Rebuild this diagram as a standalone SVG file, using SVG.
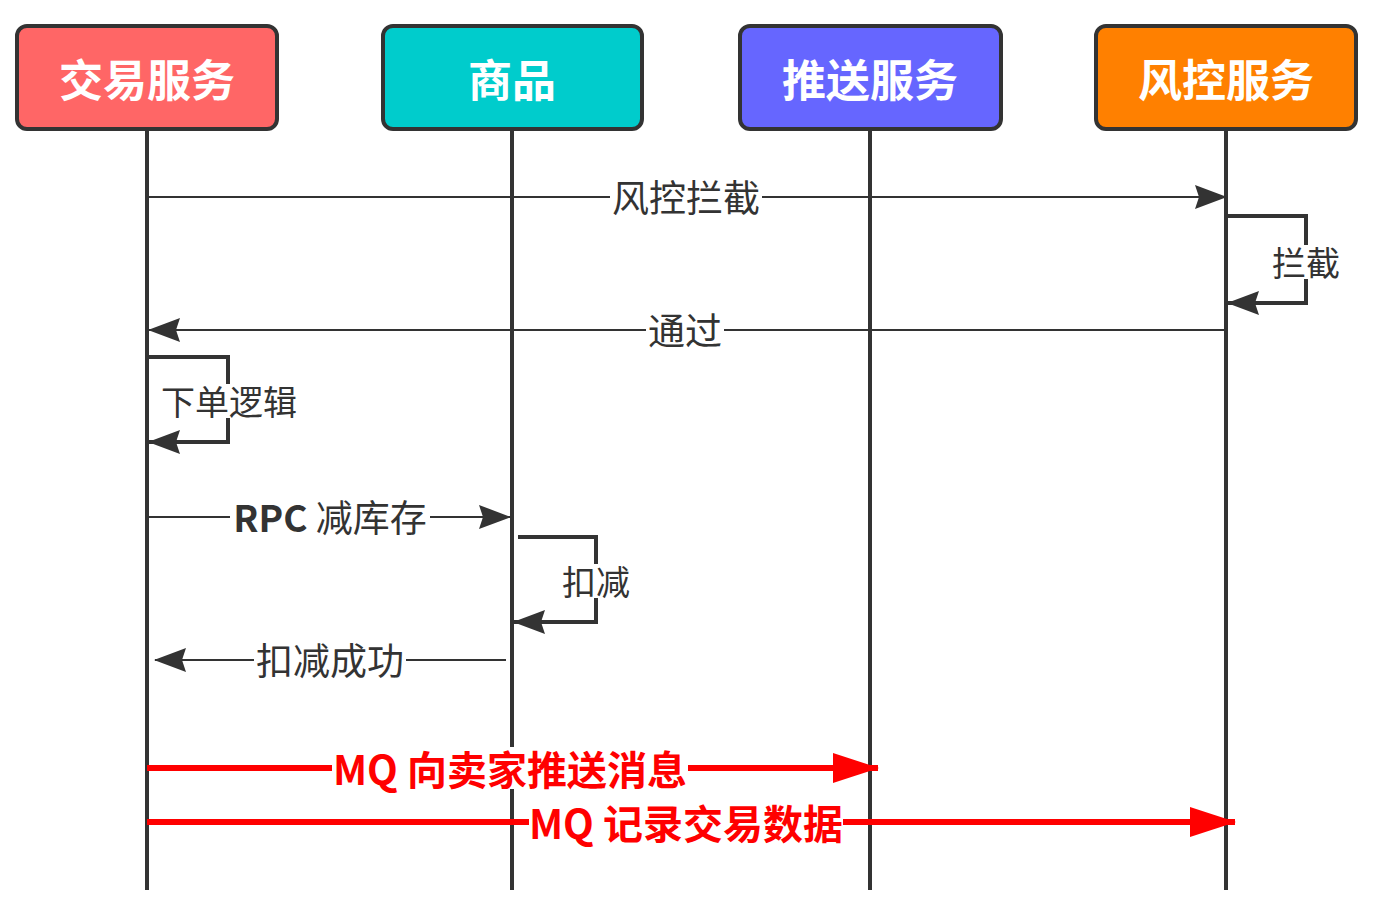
<svg xmlns="http://www.w3.org/2000/svg" width="1376" height="922" viewBox="0 0 1376 922">
<style>
.box{stroke:#333;stroke-width:4}
.title{font-family:"Noto Sans CJK SC","Liberation Sans",sans-serif;font-weight:bold;font-size:44px;fill:#fff;text-anchor:middle;dominant-baseline:central}
.life{stroke:#333;stroke-width:4;fill:none}
.msg{stroke:#333;stroke-width:2;fill:none}
.loop{stroke:#333;stroke-width:4;fill:none}
.red{stroke:#ff0000;stroke-width:6;fill:none}
.lbl{font-family:"Noto Sans CJK SC","Liberation Sans",sans-serif;font-size:37px;fill:#333;text-anchor:middle;dominant-baseline:central}
.slbl{font-family:"Noto Sans CJK SC","Liberation Sans",sans-serif;font-size:34px;fill:#333;text-anchor:middle;dominant-baseline:central}
.rlbl{font-family:"Noto Sans CJK SC","Liberation Sans",sans-serif;font-weight:bold;font-size:40px;fill:#ff0000;text-anchor:middle;dominant-baseline:central}
.bg{fill:#fff}
</style>
<defs>
<marker id="ah" markerUnits="userSpaceOnUse" markerWidth="32" markerHeight="26" refX="31" refY="13" orient="auto">
<path d="M0,1 L32,13 L0,25 L4,13 Z" fill="#333"/>
</marker>
<marker id="ahr" markerUnits="userSpaceOnUse" markerWidth="46" markerHeight="32" refX="45" refY="16" orient="auto">
<path d="M0,1 L46,16 L0,31 Z" fill="#ff0000"/>
</marker>
</defs>
<rect width="1376" height="922" fill="#fff"/>
<g id="node-trade">
<line class="life" x1="147" y1="130" x2="147" y2="890"/>
<rect class="box" x="17" y="26" width="260" height="103" rx="10" fill="#ff6666"/>
<text class="title" x="147" y="78">交易服务</text>
</g>
<g id="node-goods">
<line class="life" x1="512" y1="130" x2="512" y2="890"/>
<rect class="box" x="383" y="26" width="259" height="103" rx="10" fill="#00cccc"/>
<text class="title" x="512" y="78">商品</text>
</g>
<g id="node-push">
<line class="life" x1="870" y1="130" x2="870" y2="890"/>
<rect class="box" x="740" y="26" width="261" height="103" rx="10" fill="#6666ff"/>
<text class="title" x="870" y="78">推送服务</text>
</g>
<g id="node-risk">
<line class="life" x1="1226" y1="130" x2="1226" y2="890"/>
<rect class="box" x="1096" y="26" width="260" height="103" rx="10" fill="#ff8000"/>
<text class="title" x="1226" y="78">风控服务</text>
</g>
<g id="connectors">
<line class="msg" x1="149" y1="197" x2="1226" y2="197" marker-end="url(#ah)"/>
<rect class="bg" x="610" y="178" width="152" height="38"/>
<text class="lbl" x="686" y="196">风控拦截</text>

<path class="loop" d="M1228,216 H1306 V303 H1228" marker-end="url(#ah)"/>
<rect class="bg" x="1270" y="245" width="72" height="34"/>
<text class="slbl" x="1306" y="261">拦截</text>

<line class="msg" x1="1224" y1="330" x2="149" y2="330" marker-end="url(#ah)"/>
<rect class="bg" x="646" y="311" width="78" height="38"/>
<text class="lbl" x="685" y="329">通过</text>

<path class="loop" d="M149,357 H228 V442 H149" marker-end="url(#ah)"/>
<rect class="bg" x="160" y="384" width="138" height="34"/>
<text class="slbl" x="229" y="400">下单逻辑</text>

<line class="msg" x1="149" y1="517" x2="510" y2="517" marker-end="url(#ah)"/>
<rect class="bg" x="230" y="498" width="200" height="38"/>
<text class="lbl" x="330" y="516"><tspan font-weight="bold">RPC</tspan> 减库存</text>

<path class="loop" d="M518,537 H596 V622 H514" marker-end="url(#ah)"/>
<rect class="bg" x="560" y="564" width="72" height="34"/>
<text class="slbl" x="596" y="580">扣减</text>

<line class="msg" x1="506" y1="660" x2="155" y2="660" marker-end="url(#ah)"/>
<rect class="bg" x="254" y="641" width="152" height="38"/>
<text class="lbl" x="330" y="659">扣减成功</text>

<line class="red" x1="147" y1="768" x2="878" y2="768" marker-end="url(#ahr)"/>
<rect class="bg" x="332" y="747" width="356" height="42"/>
<text class="rlbl" x="510" y="768">MQ 向卖家推送消息</text>

<line class="red" x1="147" y1="822" x2="1235" y2="822" marker-end="url(#ahr)"/>
<rect class="bg" x="529" y="801" width="314" height="42"/>
<text class="rlbl" x="686" y="822">MQ 记录交易数据</text>
</g>
</svg>
